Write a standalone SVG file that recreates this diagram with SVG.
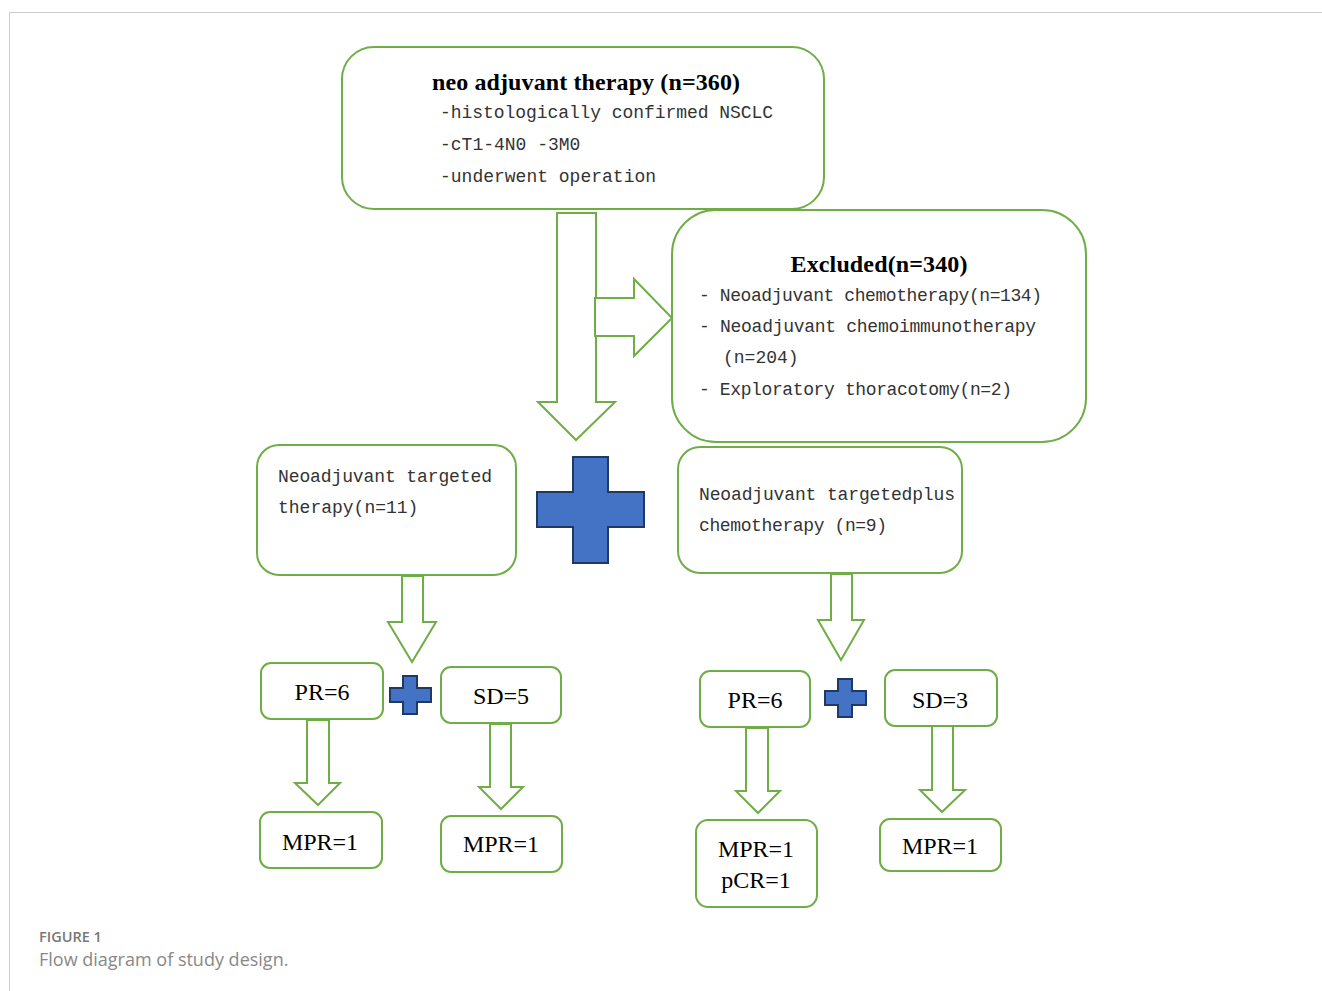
<svg xmlns="http://www.w3.org/2000/svg" width="1322" height="991" viewBox="0 0 1322 991">
<style>
.box{fill:#fff;stroke:#70AD47;stroke-width:2}
.arr{fill:#fff;stroke:#70AD47;stroke-width:2;stroke-linejoin:miter}
.plus{fill:#4472C4;stroke:#1F3864;stroke-width:2}
.t{font-family:"Liberation Serif",serif;font-size:24px;fill:#000}
.tb{font-family:"Liberation Serif",serif;font-size:24px;font-weight:bold;fill:#000}
.m{font-family:"Liberation Mono",monospace;font-size:18px;fill:#333}
</style>
<rect width="1322" height="991" fill="#fff"/>
<path d="M9.5 991 V12.5 H1322" fill="none" stroke="#cccccc" stroke-width="1"/>

<g id="connectors">
<polygon class="arr" points="557,213 596,213 596,402 615,402 576,440 538,402 557,402"/>
<polygon class="arr" points="595,298 634,298 634,279 672,318 634,356 634,336 595,336"/>
<polygon class="arr" points="402,576 423,576 423,622 436,622 412,662 388,622 402,622"/>
<polygon class="arr" points="831,574 852,574 852,620 864,620 841,660 818,620 831,620"/>
<polygon class="arr" points="307,720 329,720 329,783 340,783 318,805 295,783 307,783"/>
<polygon class="arr" points="490,724 511,724 511,787 523,787 501,809 479,787 490,787"/>
<polygon class="arr" points="746,728 768,728 768,791 780,791 758,813 736,791 746,791"/>
<polygon class="arr" points="932,726 953,726 953,790 965,790 942,812 920,790 932,790"/>
</g>

<g id="node-neo">
<rect class="box" x="342" y="47" width="482" height="162" rx="32"/>
<text class="tb" x="586" y="90" text-anchor="middle" textLength="308">neo adjuvant therapy (n=360)</text>
<text class="m" x="440" y="118" textLength="333">-histologically confirmed NSCLC</text>
<text class="m" x="440" y="150">-cT1-4N0 -3M0</text>
<text class="m" x="440" y="182">-underwent operation</text>
</g>

<g id="node-excluded">
<rect class="box" x="672" y="210" width="414" height="232" rx="44"/>
<text class="tb" x="879" y="272" text-anchor="middle" textLength="177">Excluded(n=340)</text>
<text class="m" x="699" y="301" textLength="343">- Neoadjuvant chemotherapy(n=134)</text>
<text class="m" x="699" y="332" textLength="337">- Neoadjuvant chemoimmunotherapy</text>
<text class="m" x="723" y="363">(n=204)</text>
<text class="m" x="699" y="395" textLength="313">- Exploratory thoracotomy(n=2)</text>
</g>

<g id="node-targeted">
<rect class="box" x="257" y="445" width="259" height="130" rx="22"/>
<text class="m" x="278" y="482" textLength="214">Neoadjuvant targeted</text>
<text class="m" x="278" y="513">therapy(n=11)</text>
</g>

<g id="plus-big">
<polygon class="plus" points="573,457 608,457 608,492 644,492 644,527 608,527 608,563 573,563 573,527 537,527 537,492 573,492"/>
</g>

<g id="node-targeted-chemo">
<rect class="box" x="678" y="447" width="284" height="126" rx="22"/>
<text class="m" x="699" y="500" textLength="256">Neoadjuvant targetedplus</text>
<text class="m" x="699" y="531" textLength="188">chemotherapy (n=9)</text>
</g>

<g id="node-pr-left">
<rect class="box" x="261" y="663" width="122" height="56" rx="10"/>
<text class="t" x="322" y="700" text-anchor="middle">PR=6</text>
</g>
<g id="plus-left">
<polygon class="plus" points="403,676 417,676 417,688 431,688 431,702 417,702 417,714 403,714 403,702 390,702 390,688 403,688"/>
</g>
<g id="node-sd-left">
<rect class="box" x="441" y="667" width="120" height="56" rx="10"/>
<text class="t" x="501" y="704" text-anchor="middle">SD=5</text>
</g>
<g id="node-mpr-1">
<rect class="box" x="260" y="812" width="122" height="56" rx="10"/>
<text class="t" x="320" y="850" text-anchor="middle">MPR=1</text>
</g>
<g id="node-mpr-2">
<rect class="box" x="441" y="816" width="121" height="56" rx="10"/>
<text class="t" x="501" y="852" text-anchor="middle">MPR=1</text>
</g>

<g id="node-pr-right">
<rect class="box" x="700" y="671" width="110" height="56" rx="10"/>
<text class="t" x="755" y="708" text-anchor="middle">PR=6</text>
</g>
<g id="plus-right">
<polygon class="plus" points="838,679 852,679 852,691 866,691 866,705 852,705 852,717 838,717 838,705 825,705 825,691 838,691"/>
</g>
<g id="node-sd-right">
<rect class="box" x="885" y="670" width="112" height="56" rx="10"/>
<text class="t" x="940" y="708" text-anchor="middle">SD=3</text>
</g>
<g id="node-mpr-pcr">
<rect class="box" x="696" y="820" width="121" height="87" rx="12"/>
<text class="t" x="756" y="857" text-anchor="middle">MPR=1</text>
<text class="t" x="756" y="888" text-anchor="middle">pCR=1</text>
</g>
<g id="node-mpr-3">
<rect class="box" x="880" y="819" width="121" height="52" rx="10"/>
<text class="t" x="940" y="854" text-anchor="middle">MPR=1</text>
</g>

<text x="39" y="942" font-family="Open Sans, sans-serif" font-size="14.5" font-weight="600" fill="#777">FIGURE 1</text>
<text x="39" y="966" font-family="Open Sans, sans-serif" font-size="18" fill="#888">Flow diagram of study design.</text>
</svg>
